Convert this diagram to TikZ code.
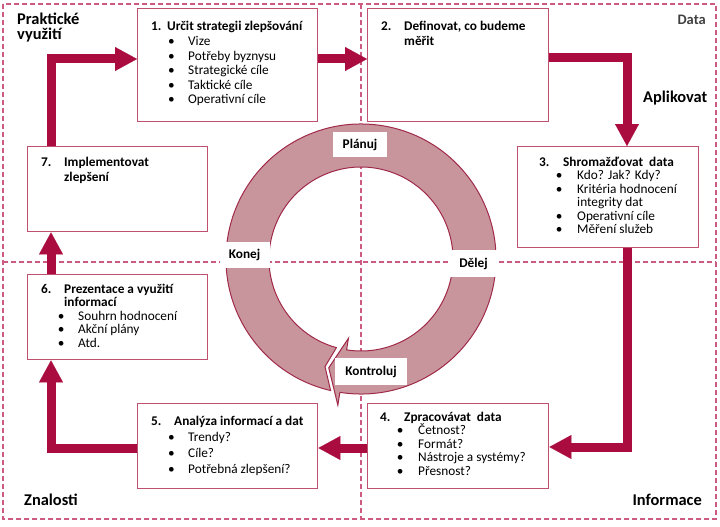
\documentclass[tikz,border=0pt]{standalone}
\usepackage{fontspec}
\setmainfont{Carlito}
\usetikzlibrary{arrows.meta}
\definecolor{arrowred}{RGB}{170,12,64}
\definecolor{boxline}{RGB}{192,80,112}
\definecolor{dashline}{RGB}{204,90,130}
\definecolor{ringfill}{RGB}{201,149,156}
\definecolor{ringline}{RGB}{160,42,74}
\definecolor{datagray}{RGB}{64,64,64}
\newcommand\Hd[3]{\hbox{\makebox[#1][l]{\bfseries #2}{\bfseries #3}}}
\newcommand\Ln[2]{\hbox{\hspace*{#1}#2}}
\newcommand\Bu[3]{\hbox{\hspace*{#1}\makebox[#2][l]{\textbullet}#3}}
\newcommand\Stack[2]{\vtop{\baselineskip=#1\lineskiplimit=-100pt\lineskip=0pt #2}}
\begin{document}
\begin{tikzpicture}[x=1pt,y=-1pt,
  bx/.style={draw=boxline, line width=1.4pt, fill=white, inner sep=0pt, anchor=north west},
  txt/.style={inner sep=0pt, anchor=base west, font=\fontsize{13.3}{14.5}\selectfont},
  big/.style={font=\fontsize{16.4}{19}\selectfont\bfseries, inner sep=0pt},
  flow/.style={draw=arrowred, line width=9pt, line join=miter, -{Triangle[length=22pt,width=24pt,line width=0.1pt]}},
  qline/.style={draw=dashline, line width=1.5pt, dash pattern=on 5pt off 3pt},
  ringlbl/.style={fill=white, inner sep=0pt, font=\fontsize{13.3}{15}\selectfont\bfseries}]
\useasboundingbox (0,0) rectangle (720,527);
% quadrant frame
\draw[qline] (3,4) rectangle (716,519);
\draw[qline] (361,4) -- (361,519);
\draw[qline] (3,262) -- (716,262);
% cycle ring
\coordinate (c) at (361,259);
\filldraw[fill=ringfill, draw=ringline, line width=1pt]
  ([shift={(105.5:92)}]c) arc[start angle=105.5, end angle=459, radius=92]
  -- ([shift={(459:80.3)}]c) -- ([shift={(466.5:113.5)}]c) -- ([shift={(459:148)}]c)
  -- ([shift={(459:135)}]c) arc[start angle=459, end angle=103, radius=135]
  -- ([shift={(108.5:113.5)}]c) -- cycle;
\node[ringlbl, minimum width=54pt, minimum height=25pt] (lp) at (360,144.5) {Plánuj};
\node[ringlbl, minimum width=47pt, minimum height=27pt] (ld) at (473.5,263.5) {Dělej};
\node[ringlbl, minimum width=50pt, minimum height=26pt] (lk) at (244.5,254.5) {Konej};
\node[ringlbl, minimum width=72pt, minimum height=27pt] (lc) at (371,371.5) {Kontroluj};
% boxes
\node[bx, minimum width=180pt, minimum height=113pt] (b1) at (137,8) {};
\node[bx, minimum width=181pt, minimum height=113pt] (b2) at (367,8) {};
\node[bx, minimum width=181pt, minimum height=101pt] (b3) at (517,146) {};
\node[bx, minimum width=181pt, minimum height=85pt] (b4) at (367,403) {};
\node[bx, minimum width=180pt, minimum height=85pt] (b5) at (137,403) {};
\node[bx, minimum width=180pt, minimum height=85pt] (b6) at (27,274) {};
\node[bx, minimum width=180pt, minimum height=85pt] (b7) at (27,146) {};
% box texts
\node[txt] (t1) at (151,31) {\Stack{14.6pt}{%
  \Hd{16pt}{1.}{Určit strategii zlepšování}
  \Bu{17pt}{20pt}{Vize}
  \Bu{17pt}{20pt}{Potřeby byznysu}
  \Bu{17pt}{20pt}{Strategické cíle}
  \Bu{17pt}{20pt}{Taktické cíle}
  \Bu{17pt}{20pt}{Operativní cíle}}};
\node[txt] (t2) at (381,31) {\Stack{15pt}{%
  \Hd{23pt}{2.}{Definovat, co budeme}
  \Ln{23pt}{\bfseries měřit}}};
\node[txt] (t3) at (539,166) {\Stack{13.5pt}{%
  \Hd{24pt}{3.}{Shromažďovat\ \ data}
  \Bu{16.7pt}{21.3pt}{Kdo? Jak? Kdy?}
  \Bu{16.7pt}{21.3pt}{Kritéria hodnocení}
  \Ln{38pt}{integrity dat}
  \Bu{16.7pt}{21.3pt}{Operativní cíle}
  \Bu{16.7pt}{21.3pt}{Měření služeb}}};
\node[txt] (t4) at (380,421) {\Stack{13.5pt}{%
  \Hd{24pt}{4.}{Zpracovávat\ \ data}
  \Bu{16.7pt}{21.3pt}{Četnost?}
  \Bu{16.7pt}{21.3pt}{Formát?}
  \Bu{16.7pt}{21.3pt}{Nástroje a systémy?}
  \Bu{16.7pt}{21.3pt}{Přesnost?}}};
\node[txt] (t5) at (151,425) {\Stack{16pt}{%
  \Hd{23pt}{5.}{Analýza informací a dat}
  \Bu{17pt}{20pt}{Trendy?}
  \Bu{17pt}{20pt}{Cíle?}
  \Bu{17pt}{20pt}{Potřebná zlepšení?}}};
\node[txt] (t6) at (41,293) {\Stack{13.5pt}{%
  \Hd{23pt}{6.}{Prezentace a využití}
  \Ln{23pt}{\bfseries informací}
  \Bu{16.7pt}{20.3pt}{Souhrn hodnocení}
  \Bu{16.7pt}{20.3pt}{Akční plány}
  \Bu{16.7pt}{20.3pt}{Atd.}}};
\node[txt] (t7) at (41,166) {\Stack{15pt}{%
  \Hd{23pt}{7.}{Implementovat}
  \Ln{23pt}{\bfseries zlepšení}}};
% quadrant labels
\node[big, anchor=base west] (lpv) at (17,25) {\Stack{15pt}{\hbox{Praktické}\hbox{využití}}};
\node[big, anchor=base east, text=datagray, font=\fontsize{14.5}{17}\selectfont\bfseries] (ldata) at (706,25) {Data};
\node[big, anchor=base west] (lapl) at (643,102) {Aplikovat};
\node[big, anchor=base west] (lzn) at (24,505) {Znalosti};
\node[big, anchor=base east] (linf) at (702,505) {Informace};
% flow arrows
\coordinate (x51) at (51,0);
\coordinate (x627) at (627,0);
\coordinate (y59) at (0,59);
\coordinate (y58) at (0,58);
\coordinate (y447) at (0,447);
\coordinate (y448) at (0,448);
\coordinate (y449) at (0,448.5);
\draw[flow] (b7.north -| x51) |- (b1.west |- y59);
\draw[flow] (b1.east |- y59) -- (b2.west |- y59);
\draw[flow] (b2.east |- y58) -| (b3.north -| x627);
\draw[flow] (b3.south -| x627) |- (b4.east |- y447);
\draw[flow] (b4.west |- y448) -- (b5.east |- y448);
\draw[flow] (b5.west |- y449) -| (b6.south -| x51);
\draw[flow] (b6.north -| x51) -- (b7.south -| x51);
\end{tikzpicture}
\end{document}
